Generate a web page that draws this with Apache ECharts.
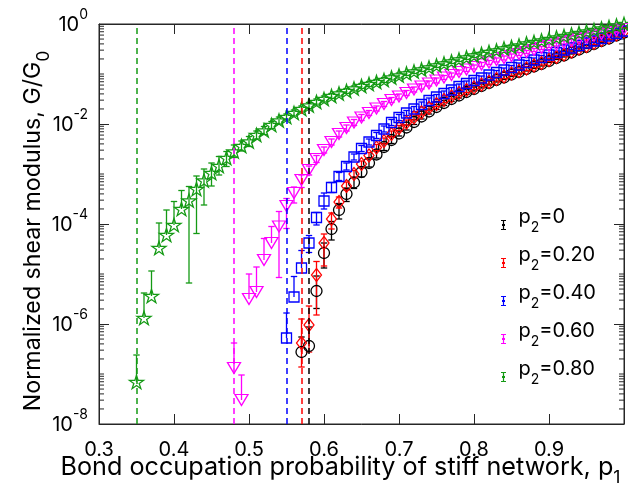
<!DOCTYPE html>
<html><head><meta charset="utf-8">
<script src="https://cdn.jsdelivr.net/npm/echarts@6/dist/echarts.min.js"></script>
<style>html,body{margin:0;padding:0;background:#fff}#c{width:628px;height:489px}</style>
</head><body><div id="c"></div>
<script>
// Bond occupation probability grid of the stiff network
const P1 = [0.35,0.36,0.37,0.38,0.39,0.40,0.41,0.42,0.43,0.44,0.45,0.46,0.47,0.48,0.49,0.50,0.51,0.52,0.53,0.54,0.55,0.56,0.57,0.58,0.59,0.60,0.61,0.62,0.63,0.64,0.65,0.66,0.67,0.68,0.69,0.70,0.71,0.72,0.73,0.74,0.75,0.76,0.77,0.78,0.79,0.80,0.81,0.82,0.83,0.84,0.85,0.86,0.87,0.88,0.89,0.90,0.91,0.92,0.93,0.94,0.95,0.96,0.97,0.98,0.99,1.00];

const NAMES  = ['p2=0','p2=0.20','p2=0.40','p2=0.60','p2=0.80'];
const COLORS = ['#000000','#ff0000','#0000ff','#ff00ff','#149a14'];
const START  = [0.57,0.57,0.55,0.48,0.35];      // first p1 of each series
const PC     = [0.58,0.568,0.55,0.478,0.35];    // percolation thresholds (dashed lines)

// log10(G/G0)
const LOG_G_000 = [-6.56,-6.44,-5.34,-4.58,-4.10,-3.72,-3.40,-3.17,-2.96,-2.78,-2.61,-2.46,-2.32,-2.19,-2.07,-1.96,-1.85,-1.75,-1.66,-1.58,-1.50,-1.43,-1.36,-1.30,-1.24,-1.18,-1.12,-1.07,-1.01,-0.96,-0.90,-0.85,-0.80,-0.74,-0.68,-0.63,-0.57,-0.51,-0.46,-0.40,-0.34,-0.29,-0.23,-0.17];
const LOG_G_020 = [-6.38,-6.02,-5.02,-4.38,-3.90,-3.56,-3.24,-3.00,-2.80,-2.63,-2.47,-2.34,-2.20,-2.08,-1.97,-1.87,-1.77,-1.68,-1.60,-1.52,-1.45,-1.38,-1.32,-1.27,-1.21,-1.16,-1.10,-1.05,-0.99,-0.94,-0.89,-0.83,-0.78,-0.72,-0.66,-0.61,-0.55,-0.49,-0.44,-0.38,-0.32,-0.27,-0.21,-0.15];
const LOG_G_040 = [-6.28,-5.46,-4.88,-4.38,-3.87,-3.54,-3.27,-3.05,-2.85,-2.66,-2.49,-2.36,-2.23,-2.10,-1.97,-1.87,-1.78,-1.70,-1.61,-1.53,-1.46,-1.39,-1.32,-1.25,-1.19,-1.13,-1.08,-1.02,-0.97,-0.92,-0.87,-0.82,-0.77,-0.72,-0.67,-0.62,-0.57,-0.52,-0.48,-0.43,-0.38,-0.34,-0.29,-0.24,-0.19,-0.14];
const LOG_G_060 = [-6.88,-7.52,-5.50,-5.36,-4.72,-4.38,-4.05,-3.64,-3.38,-3.12,-2.92,-2.70,-2.52,-2.36,-2.20,-2.08,-1.97,-1.87,-1.78,-1.69,-1.60,-1.52,-1.45,-1.38,-1.31,-1.25,-1.19,-1.13,-1.07,-1.02,-0.96,-0.91,-0.86,-0.81,-0.77,-0.72,-0.68,-0.64,-0.60,-0.56,-0.52,-0.48,-0.44,-0.41,-0.37,-0.34,-0.30,-0.27,-0.23,-0.20,-0.16,-0.13,-0.10];
const LOG_G_080 = [-7.16,-5.88,-5.44,-4.48,-4.22,-4.02,-3.70,-3.53,-3.30,-3.13,-2.98,-2.84,-2.68,-2.55,-2.44,-2.35,-2.22,-2.13,-2.02,-1.93,-1.86,-1.78,-1.70,-1.63,-1.56,-1.50,-1.44,-1.39,-1.34,-1.29,-1.24,-1.20,-1.16,-1.12,-1.07,-1.03,-0.99,-0.95,-0.91,-0.87,-0.83,-0.79,-0.75,-0.71,-0.67,-0.63,-0.60,-0.56,-0.53,-0.49,-0.46,-0.43,-0.39,-0.36,-0.33,-0.30,-0.27,-0.24,-0.21,-0.18,-0.15,-0.12,-0.09,-0.06,-0.03,0.00];

// error bar extent above / below the point, in decades (null = lower end not drawable on log axis)
const UP_000 = [0.30,0.38,0.30,0.20,0.15,0.13,0.12,0.10,0.08,0.08,0.07,0.07,0.07,0.05,0.05,0.05,0.05,0.05,0.05,0.05,0.05,0.05,0.05,0.04,0.04,0.04,0.04,0.04,0.04,0.04,0.04,0.04,0.04,0.03,0.03,0.03,0.03,0.03,0.03,0.03,0.03,0.03,0.03,0.03];
const DN_000 = [null,null,0.35,0.30,0.22,0.18,0.15,0.12,0.10,0.08,0.07,0.07,0.07,0.05,0.05,0.05,0.05,0.05,0.05,0.05,0.05,0.05,0.05,0.04,0.04,0.04,0.04,0.04,0.04,0.04,0.04,0.04,0.04,0.03,0.03,0.03,0.03,0.03,0.03,0.03,0.03,0.03,0.03,0.03];
const UP_020 = [0.48,0.38,0.27,0.18,0.12,0.10,0.08,0.07,0.06,0.06,0.06,0.06,0.06,0.05,0.05,0.05,0.05,0.05,0.05,0.05,0.05,0.05,0.05,0.04,0.04,0.04,0.04,0.04,0.04,0.04,0.04,0.04,0.04,0.03,0.03,0.03,0.03,0.03,0.03,0.03,0.03,0.03,0.03,0.03];
const DN_020 = [0.48,0.54,0.80,0.46,0.20,0.12,0.08,0.07,0.06,0.06,0.06,0.06,0.06,0.05,0.05,0.05,0.05,0.05,0.05,0.05,0.05,0.05,0.05,0.04,0.04,0.04,0.04,0.04,0.04,0.04,0.04,0.04,0.04,0.03,0.03,0.03,0.03,0.03,0.03,0.03,0.03,0.03,0.03,0.03];
const UP_040 = [0.50,0.41,0.35,0.15,0.10,0.16,0.10,0.08,0.07,0.06,0.06,0.06,0.06,0.06,0.06,0.06,0.05,0.05,0.05,0.05,0.05,0.05,0.05,0.05,0.05,0.05,0.04,0.04,0.04,0.04,0.04,0.04,0.04,0.04,0.04,0.04,0.03,0.03,0.03,0.03,0.03,0.03,0.03,0.03,0.03,0.03];
const DN_040 = [null,null,null,0.19,0.15,0.16,0.10,0.08,0.07,0.06,0.06,0.06,0.06,0.06,0.06,0.06,0.05,0.05,0.05,0.05,0.05,0.05,0.05,0.05,0.05,0.05,0.04,0.04,0.04,0.04,0.04,0.04,0.04,0.04,0.04,0.04,0.03,0.03,0.03,0.03,0.03,0.03,0.03,0.03,0.03,0.03];
const UP_060 = [0.50,0.50,0.50,0.50,0.43,0.33,0.30,0.15,0.12,0.10,0.08,0.07,0.06,0.06,0.06,0.06,0.06,0.06,0.05,0.05,0.05,0.05,0.05,0.05,0.05,0.05,0.05,0.05,0.04,0.04,0.04,0.04,0.04,0.04,0.04,0.04,0.04,0.04,0.03,0.03,0.03,0.03,0.03,0.03,0.03,0.03,0.03,0.03,0.03,0.03,0.03,0.03,0.03];
const DN_060 = [null,null,null,null,null,null,1.02,0.45,0.20,0.15,0.10,0.07,0.06,0.06,0.06,0.06,0.06,0.06,0.05,0.05,0.05,0.05,0.05,0.05,0.05,0.05,0.05,0.05,0.04,0.04,0.04,0.04,0.04,0.04,0.04,0.04,0.04,0.04,0.03,0.03,0.03,0.03,0.03,0.03,0.03,0.03,0.03,0.03,0.03,0.03,0.03,0.03,0.03];
const UP_080 = [0.54,0.50,0.50,0.50,0.50,0.47,0.37,0.28,0.26,0.23,0.20,0.19,0.13,0.13,0.10,0.10,0.08,0.08,0.07,0.07,0.06,0.06,0.06,0.06,0.06,0.06,0.05,0.05,0.05,0.05,0.05,0.05,0.05,0.05,0.05,0.05,0.04,0.04,0.04,0.04,0.04,0.04,0.04,0.04,0.04,0.04,0.04,0.04,0.04,0.04,0.04,0.03,0.03,0.03,0.03,0.03,0.03,0.03,0.03,0.03,0.03,0.03,0.03,0.03,0.03,0.03];
const DN_080 = [null,null,null,null,null,null,null,1.65,0.89,0.49,0.26,0.18,0.17,0.12,0.10,0.10,0.08,0.08,0.07,0.07,0.06,0.06,0.06,0.06,0.06,0.06,0.05,0.05,0.05,0.05,0.05,0.05,0.05,0.05,0.05,0.05,0.04,0.04,0.04,0.04,0.04,0.04,0.04,0.04,0.04,0.04,0.04,0.04,0.04,0.04,0.04,0.03,0.03,0.03,0.03,0.03,0.03,0.03,0.03,0.03,0.03,0.03,0.03,0.03,0.03,0.03];

const LOGS = [LOG_G_000, LOG_G_020, LOG_G_040, LOG_G_060, LOG_G_080];
const UPS  = [UP_000, UP_020, UP_040, UP_060, UP_080];
const DNS  = [DN_000, DN_020, DN_040, DN_060, DN_080];

const STAR = 'path://M10,0 L12.245,6.91 L19.51,6.91 L13.633,11.18 L15.88,18.09 L10,13.82 L4.12,18.09 L6.367,11.18 L0.49,6.91 L7.755,6.91 Z';
const MARKERS = [
  {symbol:'circle', size:11, rotate:0},
  {symbol:'diamond', size:[10,13], rotate:0},
  {symbol:'rect', size:10, rotate:0},
  {symbol:'triangle', size:[13,11], rotate:180},
  {symbol:STAR, size:14, rotate:0}
];
const LEGEND_ICON = 'path://M0,0H5V1H3.1V9H5V10H0V9H1.9V1H0Z M1,4H4V6H1Z';
const FONT = 'Inter, "Liberation Sans", Arial, sans-serif';
const AX = '#262626';

// minor ticks of the log axis (2..9 x 10^k and the unlabeled decades)
const MINOR = [];
for (let k = -8; k < 0; k++) {
  for (let m = 2; m <= 9; m++) MINOR.push(m * Math.pow(10, k));
  if ((k + 1) % 2 !== 0) MINOR.push(Math.pow(10, k + 1));
}

function errRender(color) {
  return function (params, api) {
    const x = api.value(0), t = api.value(2), b = api.value(3);
    const c = api.coord([x, api.value(1)]);
    const pt = api.coord([x, t]);
    const hw = 3.2, lw = 1.3;
    const ch = [];
    let yb = c[1];
    if (b > 0) {
      yb = api.coord([x, b])[1];
      ch.push({type:'line', shape:{x1:c[0]-hw, y1:yb, x2:c[0]+hw, y2:yb}, style:{stroke:color, lineWidth:lw}});
    }
    ch.push({type:'line', shape:{x1:c[0], y1:pt[1], x2:c[0], y2:yb}, style:{stroke:color, lineWidth:lw}});
    ch.push({type:'line', shape:{x1:c[0]-hw, y1:pt[1], x2:c[0]+hw, y2:pt[1]}, style:{stroke:color, lineWidth:lw}});
    return {type:'group', children:ch};
  };
}

const series = [];
series.push({
  type:'custom', silent:true, z:1, clip:true,
  data: MINOR.map(v => [0.3, v]),
  renderItem: function (params, api) {
    const y = api.coord([0.3, api.value(1)])[1];
    const cs = params.coordSys;
    const st = {stroke:AX, lineWidth:1};
    return {type:'group', children:[
      {type:'line', shape:{x1:cs.x, y1:y, x2:cs.x+5, y2:y}, style:st},
      {type:'line', shape:{x1:cs.x+cs.width-5, y1:y, x2:cs.x+cs.width, y2:y}, style:st}
    ]};
  }
});

NAMES.forEach((name, i) => {
  const s0 = P1.indexOf(START[i]);
  const xs = P1.slice(s0, s0 + LOGS[i].length);
  const pts = xs.map((x, j) => [x, Math.pow(10, LOGS[i][j])]);
  const errs = xs.map((x, j) => {
    const lg = LOGS[i][j];
    const dn = DNS[i][j];
    return [x, Math.pow(10, lg), Math.pow(10, lg + UPS[i][j]), dn == null ? 0 : Math.pow(10, lg - dn)];
  });
  series.push({
    name: name, type:'custom', clip:true, silent:true, z:3,
    data: errs, renderItem: errRender(COLORS[i]),
    encode: {x:0, y:1}
  });
  series.push({
    name: name, type:'scatter', z:4, silent:true,
    data: pts,
    symbol: MARKERS[i].symbol, symbolSize: MARKERS[i].size, symbolRotate: MARKERS[i].rotate,
    symbolKeepAspect: true,
    itemStyle: {color:'rgba(0,0,0,0)', borderColor:COLORS[i], borderWidth:1.3, opacity:1},
    markLine: {
      silent:true, symbol:['none','none'], label:{show:false},
      lineStyle:{color:COLORS[i], type:[6,4], width:1.5},
      data:[{xAxis: PC[i]}]
    }
  });
});

const chart = echarts.init(document.getElementById('c'), null, {renderer:'canvas'});
chart.setOption({
  animation:false,
  backgroundColor:'#ffffff',
  textStyle:{fontFamily:FONT},
  grid:{left:99, right:4, top:24, bottom:65, show:true, borderColor:AX, borderWidth:1, containLabel:false, outerBoundsMode:'none'},
  legend:{
    orient:'vertical', left:501, top:199, padding:0, itemGap:2,
    itemWidth:20, itemHeight:10, symbolKeepAspect:true, selectedMode:false,
    data: NAMES.map((n, i) => ({name:n, icon:LEGEND_ICON, itemStyle:{color:COLORS[i], borderWidth:0, opacity:1}})),
    formatter: function (name) {
      const v = name.split('=')[1];
      return '{t|p}{s|2}{t|=' + v + '}';
    },
    textStyle:{fontFamily:FONT, fontSize:20, color:'#000',
      rich:{
        t:{fontFamily:FONT, fontSize:20, lineHeight:20, padding:[8,0,8,0], verticalAlign:'bottom', color:'#000'},
        s:{fontFamily:FONT, fontSize:14, lineHeight:15, verticalAlign:'bottom', color:'#000'}
      }}
  },
  graphic:[{
    type:'text', x:39, y:231, rotation:Math.PI/2, silent:true,
    style:{
      text:'{t|Normalized shear modulus, G/G}{s|0}',
      align:'center', verticalAlign:'middle', fill:'#000', fontFamily:FONT, fontSize:23.2,
      rich:{
        t:{fontFamily:FONT, fontSize:23.2, lineHeight:26, padding:[0,0,7,0], verticalAlign:'bottom', fill:'#000'},
        s:{fontFamily:FONT, fontSize:17, lineHeight:18, verticalAlign:'bottom', fill:'#000'}
      }
    }
  }],
  xAxis:[{
    type:'value', min:0.3, max:1.0, interval:0.1, position:'bottom',
    axisLine:{show:true, lineStyle:{color:AX, width:1}},
    axisTick:{show:true, inside:true, length:10, lineStyle:{color:AX, width:1}},
    splitLine:{show:false},
    axisLabel:{show:true, fontFamily:FONT, fontSize:20, color:'#000', margin:16, showMaxLabel:false,
      formatter: v => v.toFixed(1)},
    name:'{t|Bond occupation probability of stiff network, p}{s|1}{g|}',
    nameLocation:'middle', nameGap:36, nameMoveOverlap:false,
    nameTextStyle:{fontFamily:FONT, fontSize:25.2, color:'#000',
      rich:{
        t:{fontFamily:FONT, fontSize:25.2, lineHeight:27, padding:[0,0,7,0], verticalAlign:'bottom', color:'#000'},
        s:{fontFamily:FONT, fontSize:17.5, lineHeight:19, verticalAlign:'bottom', color:'#000'},
        g:{width:42, height:10, verticalAlign:'bottom'}
      }}
  },{
    type:'value', min:0.3, max:1.0, interval:0.1, position:'top',
    axisLine:{show:true, lineStyle:{color:AX, width:1}},
    axisTick:{show:true, inside:true, length:10, lineStyle:{color:AX, width:1}},
    axisLabel:{show:false}, splitLine:{show:false}
  }],
  yAxis:[{
    type:'log', logBase:10, min:1e-8, max:1, interval:2, position:'left',
    axisLine:{show:true, lineStyle:{color:AX, width:1}},
    axisTick:{show:true, inside:true, length:10, lineStyle:{color:AX, width:1}},
    splitLine:{show:false},
    axisLabel:{show:true, margin:11, fontFamily:FONT, color:'#000',
      formatter: function (v) { const e = Math.round(Math.log10(v)); return '{b|10}{s|' + e + '}'; },
      rich:{
        b:{fontFamily:FONT, fontSize:20, lineHeight:22, verticalAlign:'bottom', color:'#000'},
        s:{fontFamily:FONT, fontSize:14, lineHeight:16, padding:[0,0,13,0], verticalAlign:'bottom', color:'#000'}
      }}
  },{
    type:'log', logBase:10, min:1e-8, max:1, interval:2, position:'right',
    axisLine:{show:true, lineStyle:{color:AX, width:1}},
    axisTick:{show:true, inside:true, length:10, lineStyle:{color:AX, width:1}},
    axisLabel:{show:false}, splitLine:{show:false}
  }],
  series: series
});
</script>
</body></html>
